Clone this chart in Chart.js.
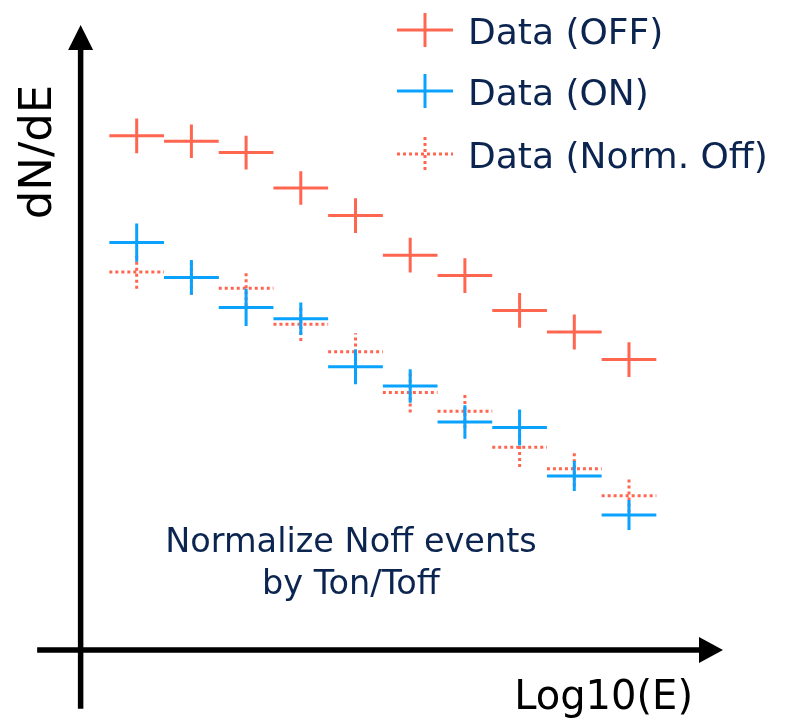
<!DOCTYPE html>
<html>
<head>
<meta charset="utf-8">
<script src="https://cdn.jsdelivr.net/npm/chart.js@4.4.0/dist/chart.umd.min.js"></script>
<style>
  html, body { margin: 0; padding: 0; background: #fff; }
  #wrap { position: relative; width: 799px; height: 724px; }
</style>
</head>
<body>
<div id="wrap"><canvas id="spectrum"></canvas></div>
<script>
// --- data ---
const binCenters = [1, 2, 3, 4, 5, 6, 7, 8, 9, 10];
const binHalfWidth = 0.5;
const offValues  = [85.7, 84.8, 82.9, 77.0, 72.4, 65.8, 62.4, 56.6, 53.0, 48.4];
const offErrors  = [2.9, 2.8, 2.8, 2.8, 2.9, 2.9, 2.9, 2.9, 2.9, 2.9];
const onValues   = [67.9, 62.1, 57.1, 55.2, 47.2, 44.0, 38.0, 37.1, 29.0, 22.5];
const onErrors   = [3.2, 2.9, 3.1, 2.7, 2.9, 2.8, 2.8, 3.0, 2.5, 2.5];
const normValues = [63.0, 62.1, 60.3, 54.3, 49.7, 42.9, 39.8, 33.8, 30.2, 25.7];
const normErrors = [2.8, 2.9, 3.0, 2.8, 3.1, 3.3, 2.8, 3.3, 2.9, 2.8];
const seriesLabels = ['Data (OFF)', 'Data (ON)', 'Data (Norm. Off)'];
const xTitle = 'Log10(E)';
const yTitle = 'dN/dE';
const noteLines = ['Normalize Noff events', 'by Ton/Toff'];

const RED = '#ff6650';
const BLUE = '#0aa2ff';
const NAVY = '#0c2550';
const FONT = '"DejaVu Sans", sans-serif';

// each bin becomes a horizontal segment plus a vertical error segment, split by gaps
function crossPoints(values, errors) {
    const pts = [];
    values.forEach((v, i) => {
        const c = binCenters[i];
        pts.push({ x: c - binHalfWidth, y: v }, { x: c + binHalfWidth, y: v }, { x: c, y: null });
        pts.push({ x: c, y: v - errors[i] }, { x: c, y: v + errors[i] }, { x: c, y: null });
    });
    return pts;
}

function crossDataset(label, values, errors, color, dash) {
    return {
        label: label,
        data: crossPoints(values, errors),
        showLine: true,
        spanGaps: false,
        borderColor: color,
        borderWidth: 3,
        borderDash: dash,
        borderCapStyle: 'butt',
        pointRadius: 0,
        pointHoverRadius: 0,
        tension: 0
    };
}

// axes with arrows, titles, legend and note
const decorPlugin = {
    id: 'decor',
    afterDatasetsDraw(chart) {
        const ctx = chart.ctx;
        const xs = chart.scales.x, ys = chart.scales.y;
        const x0 = xs.getPixelForValue(-0.025), y0 = ys.getPixelForValue(0);
        const xEnd = xs.getPixelForValue(11.28), xStart = xs.getPixelForValue(-0.82);
        const yTop = ys.getPixelForValue(100), yBottom = ys.getPixelForValue(-9.8);

        ctx.save();
        ctx.strokeStyle = '#000';
        ctx.fillStyle = '#000';
        ctx.lineWidth = 5.5;
        ctx.beginPath();
        ctx.moveTo(xStart, y0); ctx.lineTo(xEnd, y0);
        ctx.moveTo(x0, yBottom); ctx.lineTo(x0, yTop);
        ctx.stroke();
        // arrow heads
        ctx.beginPath();
        ctx.moveTo(xEnd + 24, y0); ctx.lineTo(xEnd, y0 - 13); ctx.lineTo(xEnd, y0 + 13);
        ctx.closePath(); ctx.fill();
        ctx.beginPath();
        ctx.moveTo(x0, yTop - 25); ctx.lineTo(x0 - 12.5, yTop); ctx.lineTo(x0 + 12.5, yTop);
        ctx.closePath(); ctx.fill();

        // axis titles
        ctx.font = '40px ' + FONT;
        ctx.textBaseline = 'alphabetic';
        ctx.textAlign = 'right';
        ctx.fillText(xTitle, 693, 709);
        ctx.save();
        ctx.translate(51, 152);
        ctx.rotate(-Math.PI / 2);
        ctx.textAlign = 'center';
        ctx.font = '45px ' + FONT;
        ctx.fillText(yTitle, 0, 0);
        ctx.restore();

        // legend
        const colors = [RED, BLUE, RED];
        const dashes = [[], [], [3, 3]];
        const rows = [30, 91, 154];
        seriesLabels.forEach((lab, i) => {
            const cy = rows[i];
            ctx.strokeStyle = colors[i];
            ctx.lineWidth = 3;
            ctx.setLineDash(dashes[i]);
            ctx.beginPath();
            ctx.moveTo(397, cy); ctx.lineTo(453, cy);
            ctx.moveTo(425, cy - 17); ctx.lineTo(425, cy + 17);
            ctx.stroke();
            ctx.setLineDash([]);
            ctx.fillStyle = NAVY;
            ctx.font = '36px ' + FONT;
            ctx.textAlign = 'left';
            ctx.fillText(lab, 468, cy + 14);
        });

        // note
        ctx.fillStyle = NAVY;
        ctx.font = '33.5px ' + FONT;
        ctx.textAlign = 'center';
        ctx.fillText(noteLines[0], 351, 552);
        ctx.fillText(noteLines[1], 351, 594);
        ctx.restore();
    }
};

new Chart(document.getElementById('spectrum'), {
    type: 'scatter',
    data: {
        datasets: [
            crossDataset(seriesLabels[0], offValues, offErrors, RED, []),
            crossDataset(seriesLabels[1], onValues, onErrors, BLUE, []),
            crossDataset(seriesLabels[2], normValues, normErrors, RED, [3, 3])
        ]
    },
    options: {
        responsive: true,
        maintainAspectRatio: false,
        animation: false,
        layout: { padding: 0, autoPadding: false },
        plugins: { legend: { display: false }, tooltip: { enabled: false } },
        scales: {
            x: { type: 'linear', display: false, min: -1.499, max: 13.108 },
            y: { type: 'linear', display: false, min: -12.33, max: 108.33 }
        }
    },
    plugins: [decorPlugin]
});
</script>
</body>
</html>
